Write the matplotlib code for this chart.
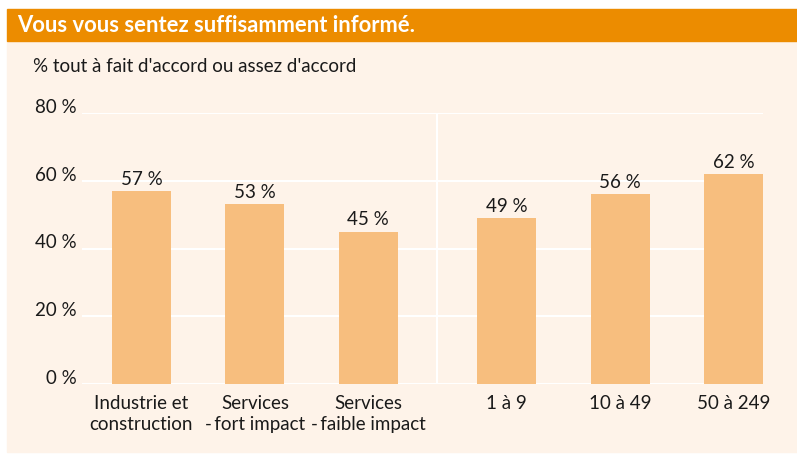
import numpy as np
import matplotlib.pyplot as plt
from matplotlib.patches import Rectangle

# data
categories = ["Industrie et\nconstruction", "Services\n-\u2009fort impact", "Services\n-\u2009faible impact",
              "1 à 9", "10 à 49", "50 à 249"]
values = [57, 53, 45, 49, 56, 62]
group_sizes = [3, 3]
yticks = [0, 20, 40, 60, 80]

title = "Vous vous sentez suffisamment informé."
subtitle = "% tout à fait d'accord ou assez d'accord"

ORANGE = "#EC8C00"
CREAM = "#FEF3E9"
BAR = "#F7BE7E"
TEXT = "#1a1a1a"
GAP = 0.22
FS = 13.5

plt.rcParams["font.family"] = ["Lato", "DejaVu Sans"]

W, H = 797, 454
fig = plt.figure(figsize=(W / 100, H / 100), dpi=100)
fig.patch.set_facecolor("white")

# background panel and title band (pixel coords -> figure fraction)
fig.patches.append(Rectangle((7 / W, 1 - 452 / H), (W - 7) / W, (452 - 41) / H,
                             transform=fig.transFigure, color=CREAM, zorder=-2))
fig.patches.append(Rectangle((7 / W, 1 - 41 / H), (W - 7) / W, 32 / H,
                             transform=fig.transFigure, color=ORANGE, zorder=-2))
fig.text(17 / W, 1 - 25 / H, title, color="white", fontsize=15.8, fontweight="bold",
         va="center", ha="left")
fig.text(33 / W, 1 - 66 / H, subtitle, color=TEXT, fontsize=FS, va="center", ha="left")

ax = fig.add_axes([82 / W, 70 / H, (763 - 82) / W, (384 - 113) / H])
ax.patch.set_alpha(0)

# bar positions: groups separated by an extra gap
x = []
start = 0.0
for n in group_sizes:
    x.extend(start + np.arange(n))
    start = x[-1] + 1 + GAP
x = np.array(x)

ax.bar(x, values, width=0.52, color=BAR, zorder=3)
for xi, v in zip(x, values):
    ax.annotate(f"{v} %", (xi, v), xytext=(0, 4.5), textcoords="offset points",
                ha="center", va="baseline", fontsize=FS, color=TEXT, zorder=4)

ax.set_xlim(x[0] - 0.524, x[-1] + 0.26)
ax.set_ylim(0, 80)
ax.set_yticks(yticks)
ax.set_yticklabels([f"{t} %" for t in yticks], va="baseline")
ax.set_xticks(x)
ax.set_xticklabels(categories, linespacing=1.3)
ax.tick_params(axis="both", length=0, labelsize=FS, colors=TEXT)
ax.tick_params(axis="y", pad=4)
ax.tick_params(axis="x", pad=8)

ax.grid(axis="y", color="white", linewidth=1.5, zorder=1)
ax.axvline((x[2] + x[3]) / 2, color="white", linewidth=1.5, zorder=1)
for s in ax.spines.values():
    s.set_visible(False)

fig.savefig("out.png", dpi=100, facecolor=fig.get_facecolor())
